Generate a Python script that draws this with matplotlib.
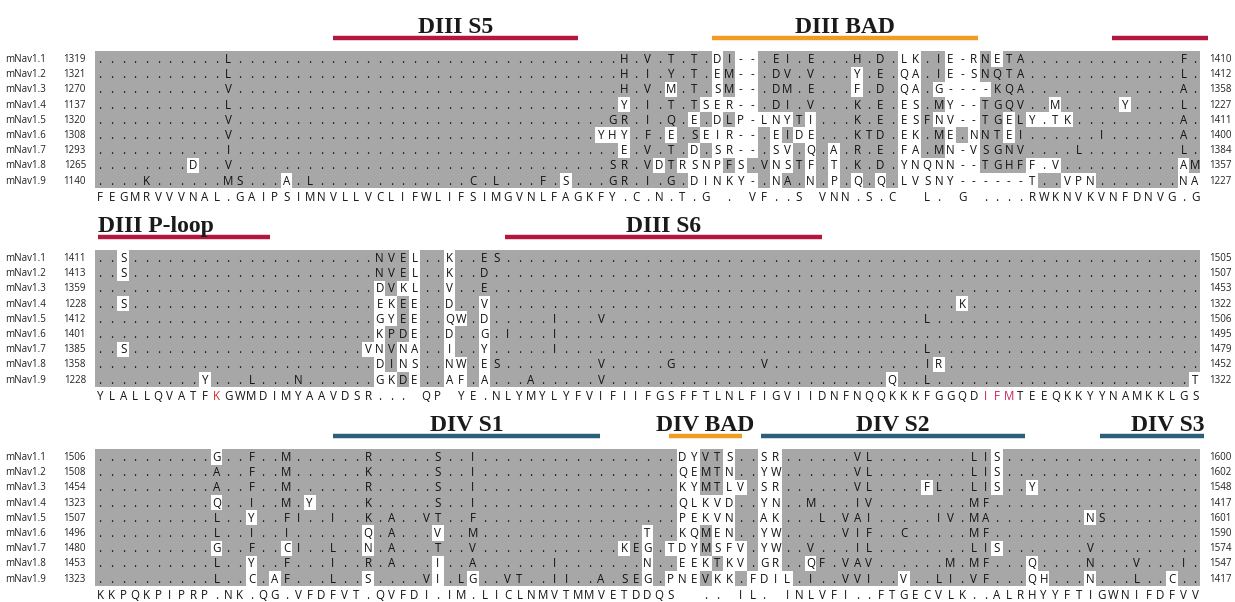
import matplotlib
matplotlib.use("Agg")
import matplotlib.pyplot as plt
from matplotlib.patches import Rectangle

plt.rcParams['font.family'] = ['Open Sans', 'DejaVu Sans']

# Alignment encoding: upper case / '.' sit on the gray box, lower case / ','
# are drawn on a white cell, '-' is a gap (white), '_' is an empty consensus slot.
# Strings are grouped in tens with '|' for readability.
names = ["mNav1.1", "mNav1.2", "mNav1.3", "mNav1.4", "mNav1.5",
         "mNav1.6", "mNav1.7", "mNav1.8", "mNav1.9"]

# ---- DIII S5 / BAD --------------------------------------------------------
start1 = [1319, 1321, 1270, 1137, 1320, 1308, 1293, 1265, 1140]
end1 = [1410, 1412, 1358, 1227, 1411, 1400, 1384, 1357, 1227]
rows1 = [
    "..........|.L........|..........|..........|.....H.V.T|.T.dI--.EI|.E...H.D.l|k.Ie-rNeTA|..........|...F.",
    "..........|.L........|..........|..........|.....H.I.Y|.T.eM--.DV|.V...y.E.q|a.Ie-sNQTA|..........|...L.",
    "..........|.V........|..........|..........|.....H.V.m|.T.sM--.DM|.E...f.D.q|a.g----KQA|..........|...A.",
    "..........|.L........|..........|..........|.....y.I.T|.Tser--.DI|.V...K.E.e|s.My--TGQV|..m.....y.|...L.",
    "..........|.V........|..........|..........|....GR.I.Q|.e.dLp-lny|Ti...K.E.e|sFnv--TGeL|y,tk......|...A.",
    "..........|.V........|..........|..........|...yhy.F.e|.Seir--.eI|de...KTD.e|k.Me.nNTeI|......I...|...A.",
    "..........|.I........|..........|..........|.....e.V.T|.d.sr--.sv|.q.a.R.E.f|a.Mn-vSGNV|....L.....|...L.",
    "........d.|.V........|..........|..........|....SR.VdT|rsnpFs.Vns|Tf.t.K.D.y|nqnn--TGHF|f,v.......|...aM",
    "....K.....|.MS...a.L.|..........|..C.L...F.|s...GR.I.G|.dinky-.nA|.n.p.q.q.l|vsny------|t..vpn....|...na",
]
cons1 = "FEGMRVVVNA|L.GAIPSIMN|VLLVCLIFWL|IFSIMGVNLF|AGKFY.C.N.|T.G_._VF..|S_VNN.S.C_|_L._G_....|RWKNVKVNFD|NVG.G"
red1 = []

# ---- DIII P-loop / S6 -----------------------------------------------------
start2 = [1411, 1413, 1359, 1228, 1412, 1401, 1385, 1358, 1228]
end2 = [1505, 1507, 1453, 1322, 1506, 1495, 1479, 1452, 1322]
rows2 = [
    "..s.......|..........|....NVEl..|k..ES.....|..........|..........|..........|..........|..........|.....",
    "..s.......|..........|....NVEl..|k..D......|..........|..........|..........|..........|..........|.....",
    "..........|..........|....dVkl..|v..E......|..........|..........|..........|..........|..........|.....",
    "..s.......|..........|....ekEe..|d..v......|..........|..........|..........|....k.....|..........|.....",
    "..........|..........|....gyEe..|qw.d.....I|...V......|..........|..........|.L........|..........|.....",
    "..........|..........|....kPDe..|d..g.I...I|..........|..........|..........|..........|..........|.....",
    "..s.......|..........|...vnVna..|i..y.....I|..........|..........|..........|.L........|..........|.....",
    "..........|..........|....dIns..|nw.eS.....|...V.....G|.......V..|..........|.Ir.......|..........|.....",
    ".........y|...L...N..|....gkDe..|af.a...A..|...V......|..........|........q.|.L........|..........|....t",
]
cons2 = "YLALLQVATF|KGWMDIMYAA|VDSR..._QP|_YE.NLYMYL|YFVIFIIFGS|FFTLNLFIGV|IIDNFNQQKK|KFGGQDIFMT|EEQKKYYNAM|KKLGS"
red2 = [10, 76, 77, 78]

# ---- DIV S1 / BAD / S2 / S3 -----------------------------------------------
start3 = [1506, 1508, 1454, 1323, 1507, 1496, 1480, 1453, 1323]
end3 = [1600, 1602, 1548, 1417, 1601, 1590, 1574, 1547, 1417]
rows3 = [
    "..........|g..F..M...|...R.....S|..I.......|..........|dyVTs..sr.|.....VL...|.....LIs..|..........|.....",
    "..........|A..F..M...|...K.....S|..I.......|..........|qeMTn..yw.|.....VL...|.....LIs..|..........|.....",
    "..........|A..F..M...|...R.....S|..I.......|..........|kyMTlv.sr.|.....VL...|.fL..LIs..|y.........|.....",
    "..........|q..I..M.y.|...K.....S|..I.......|..........|qlkvd..yn.|.M...IV...|.....MF...|..........|.....",
    "..........|L..y..FI..|I..K.A..VT|..F.......|..........|pekvn..ak.|..L.VAI...|..IV.MA...|.....nS...|.....",
    "..........|L..I..I...|...q.A...v|..M.......|.......t..|kqMen..yw.|....VIF..C|.....MF...|..........|.....",
    "..........|g..F..cI..|L..n.A...T|..V.......|.....kEg.t|dyMsfv.yw.|.V...IL...|.....LIs..|.....V....|.....",
    "..........|L..y..F...|I..R.A...i|..A......I|.......n..|eekTkv.gr.|.qF.VAV...|...M.MF...|q....N...V|...I.",
    "..........|L..c.aF...|L..s....Vi|.Lg..VT..I|I..A.SEg.p|neVkk.fdil|.I..VVI..v|..LI.VF...|qh...n...L|..c..",
]
cons3 = "KKPQKPIPRP|.NK.QG.VFD|FVT.QVFDI.|IM.LICLNMV|TMMVETDDQS|__.._IL._I|NLVFI..FTG|ECVLK..ALR|HYYFTIGWNI|FDFVV"
red3 = []

# domain annotations: label, first column, last column, colour key
dom1 = [("DIII S5", 20.0, 41.0, "tm"), ("DIII BAD", 52.5, 75.4, "bad"), ("", 86.9, 95.1, "tm")]
dom2 = [("DIII P-loop", -0.2, 14.6, "tm"), ("DIII S6", 34.8, 62.0, "tm")]
dom3 = [("DIV S1", 20.0, 42.9, "div"), ("DIV BAD", 48.8, 55.1, "bad"),
        ("DIV S2", 56.7, 79.4, "div"), ("DIV S3", 85.8, 94.8, "div")]

bar_colors = {"tm": "#b3163f", "bad": "#f39a22", "div": "#2c5f78"}
GRAY = "#a7a7a7"
COL_W = 11.65      # pixels per alignment column
ROW_H = 15.2       # pixels per sequence row
X0 = 100           # pixel x of column 0

blocks = [
    (rows1, cons1, start1, end1, red1, dom1, 59),
    (rows2, cons2, start2, end2, red2, dom2, 258),
    (rows3, cons3, start3, end3, red3, dom3, 457),
]

fig = plt.figure(figsize=(12.35, 6.02), dpi=100)
ax = fig.add_axes([0, 0, 1, 1])
ax.set_xlim(-X0 / COL_W, (1235 - X0) / COL_W)
ax.set_ylim(602, 0)
ax.axis("off")

for rows, cons, starts, ends, reds, doms, top in blocks:
    rows = [r.replace("|", "") for r in rows]
    cons = cons.replace("|", "")
    ncol = len(cons)
    ys = [top + i * ROW_H for i in range(len(rows))]

    # shaded alignment box
    ax.add_patch(Rectangle((-0.45, ys[0] - ROW_H / 2), ncol - 0.1,
                           ys[-1] - ys[0] + ROW_H, facecolor=GRAY, lw=0))

    for name, s, e, seq, y in zip(names, starts, ends, rows, ys):
        ax.text(-8.15, y + 3, name, ha="left", va="baseline", fontsize=7, color="#222222")
        ax.text(-1.2, y + 3, str(s), ha="right", va="baseline", fontsize=7, color="#222222")
        ax.text(95.2, y + 3, str(e), ha="left", va="baseline", fontsize=7, color="#222222")
        for c, ch in enumerate(seq):
            if ch.islower() or ch in ",-":
                ax.add_patch(Rectangle((c - 0.5, y - ROW_H / 2), 1, ROW_H,
                                       facecolor="white", lw=0))
            glyph = "." if ch == "," else ch.upper()
            ax.text(c, y + 4, glyph, ha="center", va="baseline",
                    fontsize=8.3, color="#111111")

    # consensus line
    yc = ys[-1] + 16.5
    for c, ch in enumerate(cons):
        if ch == "_":
            continue
        col = "#111111"
        if c in reds:
            col = "#c8205a" if c > 50 else "#d02a2a"
        ax.text(c, yc + 4, ch, ha="center", va="baseline", fontsize=8.3, color=col)

    # domain bars and labels
    yb = top - 21
    for label, c0, c1, key in doms:
        ax.hlines(yb, c0, c1, colors=bar_colors[key], lw=3.2)
        if not label:
            continue
        if label.endswith("P-loop"):
            xl, ha = c0, "left"
        elif label.endswith("S3"):
            xl, ha = c1, "right"
        else:
            xl, ha = (c0 + c1) / 2, "center"
        ax.text(xl, yb - 5, label, ha=ha, va="baseline", fontsize=17,
                fontweight="bold", family=["Liberation Serif", "DejaVu Serif"],
                color="#1a1a1a")

fig.savefig("out.png", dpi=100)
